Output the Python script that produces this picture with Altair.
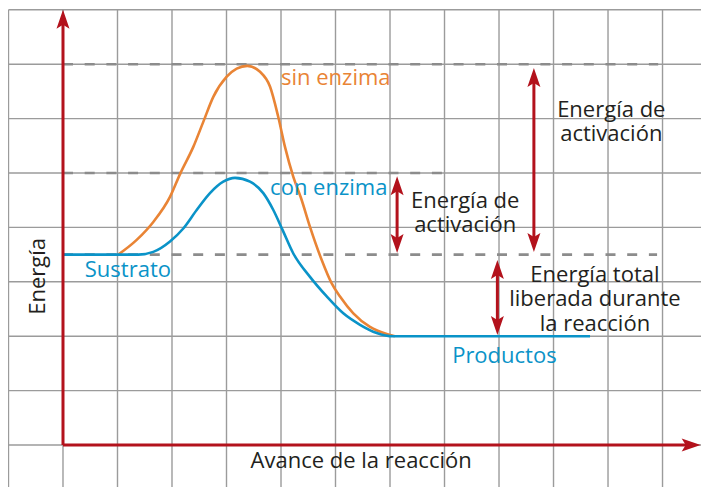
import altair as alt
import pandas as pd

# ---------------- data (grid units: x = reaction progress, y = energy) ----------------
grid_x = [-1, 0, 1, 2, 3, 4, 5, 6, 7, 8, 9, 10, 11]
grid_y = [0, 1, 2, 3, 4, 5, 6, 7, 8]

level_y = [7.0, 5.0, 3.5]            # dashed reference levels
level_end = [10.92, 6.97, 10.9]

orange_x = [1.015, 1.352, 1.657, 1.963, 2.147, 2.391, 2.574, 2.758, 3.004, 3.187, 3.382, 3.615,
            3.798, 3.95, 4.073, 4.226, 4.367, 4.532, 4.747, 4.93, 5.083, 5.327, 5.633, 5.94, 6.09]
orange_y = [3.5, 3.77, 4.10, 4.56, 4.98, 5.48, 5.94, 6.40, 6.77, 6.92, 6.97, 6.86,
            6.59, 6.03, 5.48, 4.93, 4.54, 4.01, 3.40, 2.97, 2.73, 2.42, 2.17, 2.04, 2.0]

blue_x = [0.0, 1.382, 1.657, 1.963, 2.207, 2.453, 2.697, 2.941, 3.156, 3.431, 3.675, 3.859, 4.03,
          4.226, 4.532, 4.839, 5.143, 5.45, 5.756, 6.061, 9.67]
blue_y = [3.5, 3.5, 3.55, 3.74, 3.98, 4.32, 4.63, 4.84, 4.91, 4.84, 4.63, 4.32, 3.95,
          3.52, 3.09, 2.73, 2.42, 2.21, 2.06, 2.0, 2.0]

arrow_x = [8.64, 6.13, 7.97]
arrow_top = [6.93, 4.94, 3.40]
arrow_bottom = [3.55, 3.53, 2.02]

axis_x_end = 11.70
axis_y_end = 8.0

black_blocks = [["Energía de", "activación"],
                ["Energía de", "activación"],
                ["Energía total", "liberada durante", "la reacción"],
                ["Avance de la reacción"]]
black_tx = [10.06, 7.38, 9.76, 5.47]
black_ty = [6.03, 4.36, 3.0, -0.42]

blue_text = ["con enzima", "Sustrato", "Productos"]
blue_tx = [3.8, 0.40, 7.14]
blue_ty = [4.6, 3.09, 1.51]

orange_text = ["sin enzima"]
orange_tx = [4.0]
orange_ty = [6.62]

ylabel_text = ["Energía"]
ylabel_tx = [-0.46]
ylabel_ty = [3.1]

# ---------------- styling / layout ----------------
X_DOM = [-1.009, 11.706]
Y_DOM = [-0.772, 8.033]
W, H = 693, 479
PX = W / (X_DOM[1] - X_DOM[0])   # pixels per unit
PY = H / (Y_DOM[1] - Y_DOM[0])
SHAFT_CUT = 12                   # px, shaft ends inside the arrow head

RED = "#b3121c"
ORANGE = "#e98435"
BLUE = "#0a93c8"
TEXT = "#231f20"
FONT = "Open Sans"
FS = 22
LH = 24.5

xs = alt.Scale(domain=X_DOM, nice=False, zero=False)
ys = alt.Scale(domain=Y_DOM, nice=False, zero=False)


def X(f="x"):
    return alt.X(f"{f}:Q", scale=xs, axis=None)


def Y(f="y"):
    return alt.Y(f"{f}:Q", scale=ys, axis=None)


UP = "M0,0L6.5,19L0,15L-6.5,19Z"
DOWN = "M0,0L6.5,-19L0,-15L-6.5,-19Z"
RIGHT = "M0,0L-19,6.5L-15,0L-19,-6.5Z"

# grid
vgrid = pd.DataFrame({"x": grid_x, "y": [grid_y[-1]] * len(grid_x), "y2": [Y_DOM[0]] * len(grid_x)})
hgrid = pd.DataFrame({"y": grid_y, "x": [grid_x[0]] * len(grid_y), "x2": [X_DOM[1]] * len(grid_y)})
grid_v = alt.Chart(vgrid).mark_rule(color="#9b9b9b", strokeWidth=1.4).encode(x=X(), y=Y(), y2="y2:Q")
grid_h = alt.Chart(hgrid).mark_rule(color="#9b9b9b", strokeWidth=1.4).encode(y=Y(), x=X(), x2="x2:Q")

# dashed levels
lv = pd.DataFrame({"y": level_y, "x": [0.0] * len(level_y), "x2": level_end})
dashed = alt.Chart(lv).mark_rule(color="#8c8c8c", strokeWidth=2.6, strokeDash=[10, 11.7]).encode(
    y=Y(), x=X(), x2="x2:Q")

# curves
odf = pd.DataFrame({"x": orange_x, "y": orange_y})
bdf = pd.DataFrame({"x": blue_x, "y": blue_y})
orange_line = alt.Chart(odf).mark_line(color=ORANGE, strokeWidth=2.6, interpolate="monotone").encode(x=X(), y=Y())
blue_line = alt.Chart(bdf).mark_line(color=BLUE, strokeWidth=2.6, interpolate="monotone").encode(x=X(), y=Y())

# axes arrows
yax = pd.DataFrame({"x": [0.0], "y": [0.0], "y2": [axis_y_end - SHAFT_CUT / PY], "yt": [axis_y_end]})
xax = pd.DataFrame({"y": [0.0], "x": [0.0], "x2": [axis_x_end - SHAFT_CUT / PX], "xt": [axis_x_end]})
yax_line = alt.Chart(yax).mark_rule(color=RED, strokeWidth=3, strokeCap="butt").encode(x=X(), y=Y(), y2="y2:Q")
yax_head = alt.Chart(yax).mark_point(shape=UP, size=4, filled=True, opacity=1, color=RED, strokeWidth=0).encode(
    x=X(), y=Y("yt"))
xax_line = alt.Chart(xax).mark_rule(color=RED, strokeWidth=3, strokeCap="butt").encode(y=Y(), x=X(), x2="x2:Q")
xax_head = alt.Chart(xax).mark_point(shape=RIGHT, size=4, filled=True, opacity=1, color=RED, strokeWidth=0).encode(
    y=Y(), x=X("xt"))

# double arrows
adf = pd.DataFrame({"x": arrow_x, "top": arrow_top, "bottom": arrow_bottom})
adf["s1"] = adf["top"] - SHAFT_CUT / PY
adf["s2"] = adf["bottom"] + SHAFT_CUT / PY
arr_line = alt.Chart(adf).mark_rule(color=RED, strokeWidth=3, strokeCap="butt").encode(x=X(), y=Y("s1"), y2="s2:Q")
arr_up = alt.Chart(adf).mark_point(shape=UP, size=4, filled=True, opacity=1, color=RED, strokeWidth=0).encode(
    x=X(), y=Y("top"))
arr_down = alt.Chart(adf).mark_point(shape=DOWN, size=4, filled=True, opacity=1, color=RED, strokeWidth=0).encode(
    x=X(), y=Y("bottom"))

# texts
tb = pd.DataFrame({"x": black_tx, "y": black_ty, "t": black_blocks})
tbl = pd.DataFrame({"x": blue_tx, "y": blue_ty, "t": blue_text})
tor = pd.DataFrame({"x": orange_tx, "y": orange_ty, "t": orange_text})
tyl = pd.DataFrame({"x": ylabel_tx, "y": ylabel_ty, "t": ylabel_text})

txt_black = alt.Chart(tb).mark_text(font=FONT, fontSize=FS, color=TEXT, align="center", baseline="alphabetic",
                                    lineHeight=LH).encode(x=X(), y=Y(), text="t")
txt_blue = alt.Chart(tbl).mark_text(font=FONT, fontSize=FS, color=BLUE, align="left", baseline="alphabetic").encode(
    x=X(), y=Y(), text="t:N")
txt_orange = alt.Chart(tor).mark_text(font=FONT, fontSize=FS, color=ORANGE, align="left", baseline="alphabetic").encode(
    x=X(), y=Y(), text="t:N")
txt_ylabel = alt.Chart(tyl).mark_text(font=FONT, fontSize=FS, color=TEXT, align="center", baseline="middle",
                                      angle=270).encode(x=X(), y=Y(), text="t:N")

chart = alt.layer(
    grid_v, grid_h, dashed, orange_line, blue_line,
    yax_line, xax_line, yax_head, xax_head,
    arr_line, arr_up, arr_down,
    txt_black, txt_blue, txt_orange, txt_ylabel,
).properties(
    width=W, height=H, padding=0, background="white",
    autosize=alt.AutoSizeParams(type="none"),
).configure_view(strokeWidth=0)

chart.save("out.html", embed_options={"renderer": "svg", "actions": False})
